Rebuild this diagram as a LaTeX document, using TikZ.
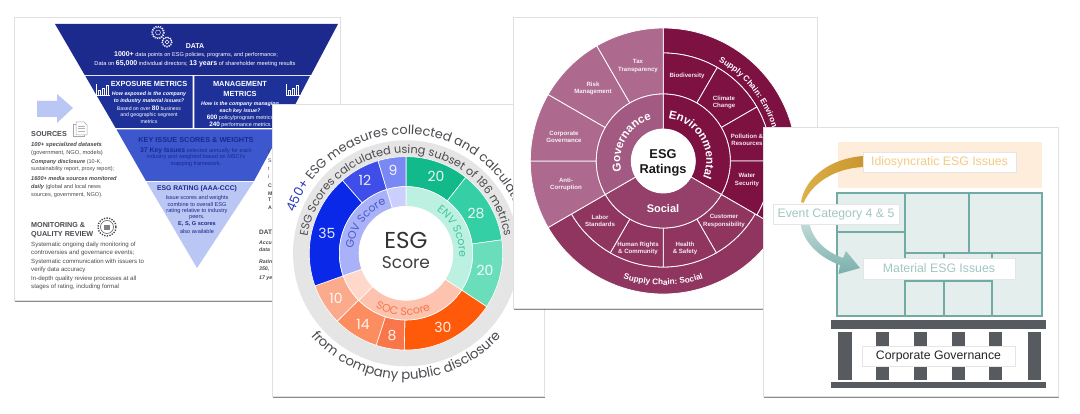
\documentclass[tikz,border=0pt]{standalone}
\usepackage{fontspec}
\setmainfont{Liberation Sans}
\newfontfamily\latof{Poppins}
\usetikzlibrary{shadows,decorations.text}
\newcommand\fz[1]{\fontsize{#1}{#1}\selectfont}
\newcounter{nn}
\newcommand\lbl[4][]{\stepcounter{nn}\node[inner sep=0pt,#1] (n\arabic{nn}) at (#2,#3) {#4};}
\newcommand\sectw[6]{\draw[fill=#1,draw=white,line width=#6] (#2:#4) arc[start angle=#2,end angle=#3,radius=#4] -- (#3:#5) arc[start angle=#3,end angle=#2,radius=#5] -- cycle;}
\newcommand\arctext[6]{\path[decorate,decoration={text along path,text align=#5,text={|#6|#1}}] (#2:#4) arc[start angle=#2,end angle=#3,radius=#4];}
\definecolor{navy}{HTML}{1B2A8C}
\definecolor{navyb}{HTML}{1D3199}
\definecolor{midb}{HTML}{3D57CF}
\definecolor{lightb}{HTML}{BAC6F3}
\definecolor{gtx}{HTML}{4A4A50}
\definecolor{teal}{HTML}{72ABA6}
\definecolor{tealt}{HTML}{A3C6C3}
\definecolor{goldt}{HTML}{F3CB84}
\definecolor{golda}{HTML}{C9962B}
\definecolor{goldb}{HTML}{DDB04A}
\definecolor{beam}{HTML}{575B5F}
\definecolor{gv}{HTML}{AD6A8E}
\definecolor{gvin}{HTML}{A35A82}
\definecolor{env}{HTML}{7C1142}
\definecolor{soc}{HTML}{8F3560}
\definecolor{socin}{HTML}{94406A}
\definecolor{g1}{HTML}{12B98A}\definecolor{g2}{HTML}{34CFA4}\definecolor{g3}{HTML}{6ADDBA}
\definecolor{o1}{HTML}{FF5A0A}\definecolor{o2}{HTML}{F9764A}\definecolor{o3}{HTML}{FB8D60}\definecolor{o4}{HTML}{FCAA8C}
\definecolor{b1}{HTML}{0A28E8}\definecolor{b2}{HTML}{3F4EE8}\definecolor{b3}{HTML}{7A88F4}
\definecolor{b4}{HTML}{2A3CC0}
\tikzset{
 panel/.style={fill=white,draw=black!12,line width=.5pt,drop shadow={shadow xshift=1pt,shadow yshift=-2pt,fill=black,opacity=.45}},
 tagbox/.style={fill=white,draw=black!10,line width=.4pt,drop shadow={shadow xshift=1pt,shadow yshift=-1.2pt,fill=black,opacity=.35},minimum height=20.5pt,inner sep=0pt},
 wt/.style={text=white,align=center},
 dk/.style={text=navy,align=center},
 gl/.style={text=gtx,anchor=west},
 petal/.style={text=white,align=center,font=\bfseries\fz{6.1},text opacity=.9},
 num/.style={text=white,font=\latof\fz{14},text opacity=.9},
 col/.style={fill=beam},
 cell/.style={draw=teal,line width=1.2pt},
}
\begin{document}
\begin{tikzpicture}[x=1pt,y=-1pt]
\useasboundingbox (0,0) rectangle (1080,414);
\fill[white] (0,0) rectangle (1080,414);

% ---------- Panel 1: inverted pyramid
\path[panel] (14,17) rectangle (340,300);
\fill[navy] (55,24) -- (338,24) -- (311,75) -- (84.7,75) -- cycle;
\fill[navyb] (85.3,76) -- (192.6,76) -- (192.6,128) -- (115.6,128) -- cycle;
\fill[navyb] (194.4,76) -- (310,76) -- (283,128) -- (194.4,128) -- cycle;
\fill[midb] (116.5,129.5) -- (282,129.5) -- (254,181) -- (146,181) -- cycle;
\fill[lightb] (146.5,182) -- (253.5,182) -- (197,268) -- cycle;
\foreach \p/\q in {{158,32.5}/5.5,{167,42}/4.4}{
 \draw[white,line width=.4pt] (\p) circle[radius=\q];
 \draw[white,line width=1pt,dash pattern=on 1.2pt off 1.2pt] (\p) circle[radius=\q+.7];
 \draw[white,line width=.4pt] (\p) circle[radius=\q*.45];
}
\lbl[wt,font=\bfseries\fz{7}]{195}{46}{DATA}
\lbl[wt,font=\fz{5.6}]{196}{55}{{\bfseries\fz{7}1000+} data points on ESG policies, programs, and performance;}
\lbl[wt,font=\fz{5.7}]{195}{63.5}{Data on {\bfseries\fz{7}65,000} individual directors; {\bfseries\fz{7}13 years} of shareholder meeting results}
\foreach \x in {96,286}{
 \draw[white,line width=.4pt] (\x,84) -- (\x,95) -- (\x+14,95);
 \draw[white,line width=.4pt] (\x+2,95) rectangle (\x+4.5,90) (\x+6,95) rectangle (\x+8.5,88) (\x+10,95) rectangle (\x+12.5,85);
}
\lbl[wt,font=\bfseries\fz{7.4}]{149}{84}{EXPOSURE METRICS}
\lbl[wt,font=\bfseries\itshape\fz{5.3}]{149}{94}{How exposed is the company}
\lbl[wt,font=\bfseries\itshape\fz{5.3}]{149}{101}{to industry material issues?}
\lbl[wt,font=\fz{5.2}]{149}{108.5}{Based on over {\bfseries\fz{6.5}80} business}
\lbl[wt,font=\fz{5.2}]{149}{115}{and geographic segment}
\lbl[wt,font=\fz{5.2}]{149}{121.5}{metrics}
\lbl[wt,font=\bfseries\fz{7.4}]{240}{84}{MANAGEMENT}
\lbl[wt,font=\bfseries\fz{7.4}]{240}{93.5}{METRICS}
\lbl[wt,font=\bfseries\itshape\fz{5.3}]{240}{104}{How is the company managing}
\lbl[wt,font=\bfseries\itshape\fz{5.3}]{240}{111}{each key issue?}
\lbl[wt,font=\fz{5.4}]{240}{117.5}{{\bfseries\fz{6.4}600} policy/program metrics}
\lbl[wt,font=\fz{5.4}]{240}{124.5}{{\bfseries\fz{6.4}240} performance metrics}
\lbl[dk,font=\bfseries\fz{7.3}]{196}{139.5}{KEY ISSUE SCORES \& WEIGHTS}
\lbl[dk,font=\fz{5.6}]{196}{151}{{\bfseries\fz{6.8}37 Key Issues} selected annually for each}
\lbl[dk,font=\fz{5.6}]{196}{157.5}{industry and weighted based on MSCI's}
\lbl[dk,font=\fz{5.6}]{196}{164}{mapping framework.}
\lbl[dk,font=\bfseries\fz{6.8}]{197}{189}{ESG RATING (AAA-CCC)}
\lbl[dk,font=\fz{5.6}]{197}{198}{Issue scores and weights}
\lbl[dk,font=\fz{5.6}]{197}{204.5}{combine to overall ESG}
\lbl[dk,font=\fz{5.6}]{197}{211}{rating relative to industry}
\lbl[dk,font=\fz{5.6}]{197}{217.5}{peers.}
\lbl[dk,font=\bfseries\fz{5.6}]{197}{224}{E, S, G scores}
\lbl[dk,font=\fz{5.6}]{197}{231}{also available}
\fill[lightb] (37,101) -- (57,101) -- (57,94) -- (73,108) -- (57,123) -- (57,117) -- (37,117) -- cycle;
\draw[black!35,line width=.5pt] (73,124) rectangle (84,136);
\draw[black!35,fill=white,line width=.5pt] (76,122) -- (84,122) -- (87,125) -- (87,135) -- (76,135) -- cycle;
\draw[black!30,line width=.4pt] (78,126) -- (85,126) (78,128.5) -- (85,128.5) (78,131) -- (85,131);
\lbl[gl,font=\bfseries\fz{7.2}]{31}{134.5}{SOURCES}
\lbl[gl,font=\bfseries\itshape\fz{5.8}]{31}{145.5}{100+ specialized datasets}
\lbl[gl,font=\fz{5.7}]{31}{153}{(government, NGO, models)}
\lbl[gl,font=\fz{5.5}]{31}{162}{{\bfseries\itshape Company disclosure} (10-K,}
\lbl[gl,font=\fz{5.5}]{31}{169}{sustainability report, proxy report);}
\lbl[gl,font=\bfseries\itshape\fz{5.6}]{31}{179}{1600+ media sources monitored}
\lbl[gl,font=\fz{5.6}]{31}{187}{{\bfseries\itshape daily} (global and local news}
\lbl[gl,font=\fz{5.6}]{31}{195}{sources, government, NGO).}
\lbl[gl,font=\bfseries\fz{7.2}]{31}{225}{MONITORING \&}
\lbl[gl,font=\bfseries\fz{7.2}]{31}{235}{QUALITY REVIEW}
\draw[gtx,line width=.5pt] (107,227) circle[radius=6.5];
\draw[gtx,line width=1.4pt,dash pattern=on 1.3pt off 1.3pt] (107,227) circle[radius=9];
\fill[gtx!70] (104,225) rectangle (110,230);
\lbl[gl,font=\fz{6.1}]{31}{245}{Systematic ongoing daily monitoring of}
\lbl[gl,font=\fz{6.1}]{31}{253}{controversies and governance events;}
\lbl[gl,font=\fz{6.1}]{31}{262}{Systematic communication with issuers to}
\lbl[gl,font=\fz{6.1}]{31}{270}{verify data accuracy}
\lbl[gl,font=\fz{6.1}]{31}{279}{In-depth quality review processes at all}
\lbl[gl,font=\fz{6.1}]{31}{287}{stages of rating, including formal}
\lbl[gl,font=\bfseries\fz{6}]{268}{151}{I}
\lbl[gl,font=\fz{5.2}]{268}{161}{S}
\lbl[gl,font=\fz{5.2}]{268}{169}{t}
\lbl[gl,font=\fz{5.2}]{268}{177}{i}
\lbl[gl,font=\bfseries\fz{5.2}]{268}{186}{C}
\lbl[gl,font=\bfseries\fz{5.2}]{268}{194}{M}
\lbl[gl,font=\bfseries\fz{5.2}]{268}{200}{T}
\lbl[gl,font=\bfseries\fz{5.2}]{268}{208}{A}
\lbl[gl,font=\bfseries\fz{6.5}]{259}{232}{DATA}
\lbl[gl,font=\bfseries\itshape\fz{5.2}]{259}{243}{Accu}
\lbl[gl,font=\bfseries\itshape\fz{5.2}]{259}{250}{data}
\lbl[gl,font=\bfseries\itshape\fz{5.2}]{259}{262}{Ratin}
\lbl[gl,font=\bfseries\itshape\fz{5.2}]{259}{269}{350,}
\lbl[gl,font=\bfseries\itshape\fz{5.2}]{259}{278}{17 ye}

% ---------- Panel 2: donut
\path[panel] (272,104) rectangle (544,396);
\begin{scope}[shift={(406,253.3)},y=1pt]
 \fill[black!10] (0,0) circle[radius=113];
 \sectw{g1}{90}{51.8}{96.7}{66.7}{.6pt}
 \sectw{g2}{51.8}{8}{96.7}{66.7}{.6pt}
 \sectw{g3}{8}{-33.5}{96.7}{66.7}{.6pt}
 \sectw{o1}{-33.5}{-91}{96.7}{66.7}{.6pt}
 \sectw{o2}{269}{252}{96.7}{66.7}{.6pt}
 \sectw{o3}{252}{224.6}{96.7}{66.7}{.6pt}
 \sectw{o4}{224.6}{199.7}{96.7}{66.7}{.6pt}
 \sectw{b1}{199.7}{131}{96.7}{66.7}{.6pt}
 \sectw{b2}{131}{106.8}{96.7}{66.7}{.6pt}
 \sectw{b3}{106.8}{90}{96.7}{66.7}{.6pt}
 \sectw{g3!45}{90}{-33.5}{66.7}{47}{.6pt}
 \sectw{o4!70}{-33.5}{-135}{66.7}{47}{.6pt}
 \sectw{o4!45}{225}{199.7}{66.7}{47}{.6pt}
 \sectw{b3!65}{199.7}{106.8}{66.7}{47}{.6pt}
 \sectw{b3!40}{106.8}{90}{66.7}{47}{.6pt}
 \fill[white] (0,0) circle[radius=47];
 \arctext{ESG Scores calculated using subset of 186 metrics}{200}{-20}{100}{center}{\color{gtx}\latof\fz{11.3}}
 \path[decorate,decoration={text along path,text align=left,text={|\color{b4}\latof\fz{12.8}|450+|||\color{gtx}\latof\fz{12.8}| ESG measures collected and calculated}}] (160:119) arc[start angle=160,end angle=-30,radius=119];
 \arctext{from company public disclosure}{195}{345}{126}{center}{\color{gtx}\latof\fz{13.3}}
 \arctext{GOV Score}{200}{87}{53}{center}{\color{b4!85}\latof\fz{11}}
 \arctext{ENV Score}{80}{-30}{53}{center}{\color{g1!80}\latof\fz{11}}
 \arctext{SOC Score}{215}{319}{62}{center}{\color{o2}\latof\fz{11}}
\end{scope}
\lbl[font=\latof\fz{23},text=black!80]{406}{240}{ESG}
\lbl[font=\latof\fz{17},text=black!75]{406}{263}{Score}
\lbl[num]{393}{170}{9}
\lbl[num]{365}{180}{12}
\lbl[num]{327}{233}{35}
\lbl[num]{336}{298}{10}
\lbl[num]{363}{324}{14}
\lbl[num]{392}{336}{8}
\lbl[num]{443}{327}{30}
\lbl[num]{436}{176}{20}
\lbl[num]{476}{213}{28}
\lbl[num]{485}{270}{20}

% ---------- Panel 3: sunburst
\path[panel] (513,17) rectangle (817,308);
\begin{scope}[shift={(663.3,161)},y=1pt]
 \sectw{env}{90}{-30}{133}{108}{.8pt}
 \sectw{soc}{-30}{-150}{133}{106}{.8pt}
 \sectw{env}{90}{60}{108}{67}{.8pt}
 \sectw{env}{60}{30}{108}{67}{.8pt}
 \sectw{env}{30}{0}{108}{67}{.8pt}
 \sectw{env}{0}{-30}{108}{67}{.8pt}
 \sectw{soc}{-30}{-60}{106}{67}{.8pt}
 \sectw{soc}{-60}{-90}{106}{67}{.8pt}
 \sectw{soc}{-90}{-120}{106}{67}{.8pt}
 \sectw{soc}{-120}{-150}{106}{67}{.8pt}
 \sectw{gv}{210}{180}{133}{67}{.8pt}
 \sectw{gv}{180}{150}{133}{67}{.8pt}
 \sectw{gv}{150}{120}{133}{67}{.8pt}
 \sectw{gv}{120}{90}{133}{67}{.8pt}
 \sectw{env}{90}{-30}{67}{32}{.8pt}
 \sectw{socin}{-30}{-150}{67}{32}{.8pt}
 \sectw{gvin}{210}{90}{67}{32}{.8pt}
 \fill[white] (0,0) circle[radius=32];
 \arctext{Governance}{205}{95}{43}{center}{\color{white}\bfseries\fz{11.5}}
 \arctext{Environmental}{92}{-32}{43}{center}{\color{white}\bfseries\fz{11.5}}
 \arctext{Supply Chain: Social}{225}{315}{124}{center}{\color{white}\bfseries\fz{8.2}}
 \arctext{Supply Chain: Environmental}{61}{-40}{114}{left}{\color{white}\bfseries\fz{8.2}}
\end{scope}
\lbl[font=\bfseries\fz{12.8},text=black!90]{663}{154}{ESG}
\lbl[font=\bfseries\fz{12.8},text=black!90]{663}{170}{Ratings}
\lbl[wt,font=\bfseries\fz{11}]{663}{209}{Social}
\lbl[petal]{638}{66}{Tax\\[1pt]Transparency}
\lbl[petal]{593}{88}{Risk\\[1pt]Management}
\lbl[petal]{564}{137}{Corporate\\[1pt]Governance}
\lbl[petal]{566}{184}{Anti-\\[1pt]Corruption}
\lbl[petal]{600}{221}{Labor\\[1pt]Standards}
\lbl[petal]{638}{248}{Human Rights\\[1pt]\& Community}
\lbl[petal]{685}{248}{Health\\[1pt]\& Safety}
\lbl[petal]{724}{221}{Customer\\[1pt]Responsibility}
\lbl[petal]{747}{180}{Water\\[1pt]Security}
\lbl[petal]{747}{140}{Pollution \&\\[1pt]Resources}
\lbl[petal]{724}{102}{Climate\\[1pt]Change}
\lbl[petal]{687}{76}{Biodiversity}

% ---------- Panel 4: building
\path[panel] (763,127) rectangle (1058,396);
\fill[orange!14] (838,142) rectangle (1042,188);
\fill[teal!20] (837,193) rectangle (1042,316);
\draw[cell] (837,193) rectangle (1042,316);
\draw[cell] (837,232) -- (905,232) (905,193) -- (905,316) (969,193) -- (969,253) (905,253) -- (1042,253) (944,253) -- (944,316) (992,253) -- (992,316) (905,281) -- (992,281);
\fill[col] (831,320) rectangle (1046,329);
\fill[col] (831,382) rectangle (1046,388);
\foreach \x/\w in {838/13.5,876/13,914/13,952/13,989/13,1028/12.5}{\fill[col] (\x,332) rectangle (\x+\w,380);}
\shade[left color=goldb,right color=golda] (864,156) .. controls (830,158) and (805,178) .. (801,202) -- (803.5,203) .. controls (812,183) and (835,168) .. (864,167) -- cycle;
\shade[top color=teal!45,bottom color=teal!95] (800.7,224) -- (809.5,224) .. controls (813,240) and (826,252) .. (843,258) -- (846,251) -- (860,268) -- (838.5,274) -- (840,265) .. controls (820,258) and (803,242) .. (800.7,224) -- cycle;
\node[tagbox,minimum width=153pt,font=\fz{12.3},text=goldt] (idio) at (939.5,162) {Idiosyncratic ESG Issues};
\node[tagbox,minimum width=126pt,font=\fz{12.3},text=tealt] (event) at (836,214) {Event Category 4 \& 5};
\node[tagbox,minimum width=152pt,font=\fz{12.3},text=tealt] (mater) at (939,268.5) {Material ESG Issues};
\node[tagbox,minimum width=153pt,font=\fz{12.3},text=black!85] (corp) at (938.5,356) {Corporate Governance};
\end{tikzpicture}
\end{document}
